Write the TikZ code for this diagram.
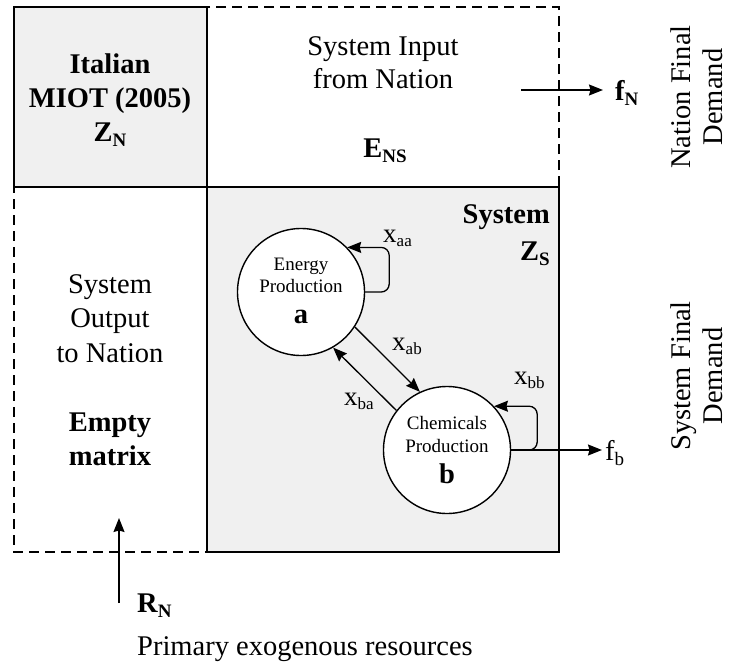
\documentclass[tikz,border=0pt]{standalone}
\usepackage{fontspec}
\setmainfont{Liberation Serif}
\usetikzlibrary{arrows.meta}
\definecolor{boxgray}{RGB}{240,240,240}
\newcommand\lsub[1]{\raisebox{-5pt}{\fontsize{19}{19}\selectfont #1}}
\newcommand\ssub[1]{\raisebox{-4pt}{\fontsize{17}{17}\selectfont #1}}
\begin{document}
\begin{tikzpicture}[x=1pt,y=-1pt,
  every node/.style={inner sep=0pt, font=\fontsize{28.5}{33}\selectfont},
  solidline/.style={line width=1.6pt},
  dashline/.style={line width=1.4pt, dash pattern=on 10pt off 6pt},
  arr/.style={line width=1.3pt, -{Stealth[length=14pt,width=11pt,inset=1.5pt]}},
  loopline/.style={arr, rounded corners=8pt},
  txt/.style={anchor=base},
  small/.style={anchor=base, font=\fontsize{19}{22}\selectfont},
  lbl/.style={anchor=base west, font=\fontsize{27}{30}\selectfont},
  circ/.style={circle, draw, line width=1.4pt, fill=white, minimum size=127pt, inner sep=0pt},
  side/.style={anchor=base, rotate=90}]
\useasboundingbox (0,0) rectangle (731,664);
% boxes
\draw[dashline] (14,7) rectangle (559,552);
\draw[solidline, fill=boxgray] (14,7) rectangle (207,187);
\draw[solidline, fill=boxgray] (207,187) rectangle (559,552);
% top-left text
\node[txt] (it1) at (110,73) {\bfseries Italian};
\node[txt] (it2) at (110,107) {\bfseries MIOT (2005)};
\node[txt] (it3) at (110,141) {\bfseries Z\lsub{N}};
% top-right text
\node[txt] (si1) at (383,55) {System Input};
\node[txt] (si2) at (383,88) {from Nation};
\node[txt] (si3) at (385,157) {\bfseries E\lsub{NS}};
% bottom-left text
\node[txt] (so1) at (110,293) {System};
\node[txt] (so2) at (110,327) {Output};
\node[txt] (so3) at (110,362) {to Nation};
\node[txt] (so4) at (110,431) {\bfseries Empty};
\node[txt] (so5) at (110,465) {\bfseries matrix};
% system label
\node[anchor=base east] (sy1) at (550,223) {\bfseries System};
\node[anchor=base east] (sy2) at (550,260) {\bfseries Z\lsub{S}};
% circles
\node[circ] (a) at (301,292) {};
\node[circ] (b) at (447,450) {};
\node[small] (a1) at (301,270) {Energy};
\node[small] (a2) at (301,292) {Production};
\node[txt] (a3) at (301,323) {\bfseries a};
\node[small] (b1) at (447,429) {Chemicals};
\node[small] (b2) at (447,452) {Production};
\node[txt] (b3) at (447,483) {\bfseries b};
% flows
\draw[loopline] (a.east) -- ++(24,0) |- (a.44);
\draw[loopline] (b.east) -- ++(26,0) |- (b.43);
\draw[arr] (a.-33) -- (b.115);
\draw[arr] (b.142) -- (a.-60);
\node[lbl] (xaa) at (383,242) {x\ssub{aa}};
\node[lbl] (xab) at (392,350) {x\ssub{ab}};
\node[lbl] (xba) at (344,405) {x\ssub{ba}};
\node[lbl] (xbb) at (514,384) {x\ssub{bb}};
% final demands
\node[anchor=base west] (fb) at (605,460) {f\lsub{b}};
\draw[arr] (b.east) -- ([xshift=-3pt]b.east -| fb.west);
\coordinate (fNs) at (521,90);
\node[anchor=base west] (fN) at (615,100) {\bfseries f\lsub{N}};
\draw[arr] (fNs) -- ([xshift=-12pt]fNs -| fN.west);
% primary resources
\coordinate (rs) at (119,603);
\coordinate (rt) at (119,518);
\draw[arr] (rs) -- (rt);
\node[anchor=base west] (rn) at (137,612) {\bfseries R\lsub{N}};
\node[anchor=base west] (pr) at (137,655) {Primary exogenous resources};
% side labels
\node[side] (nd1) at (690,97) {Nation Final};
\node[side] (nd2) at (722,97) {Demand};
\node[side] (sd1) at (690,376) {System Final};
\node[side] (sd2) at (722,376) {Demand};
\end{tikzpicture}
\end{document}
